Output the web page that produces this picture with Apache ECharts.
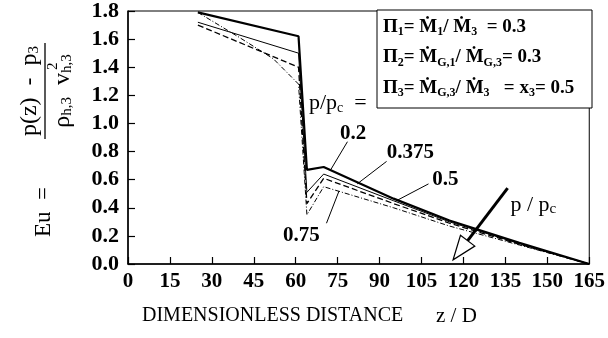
<!DOCTYPE html>
<html>
<head>
<meta charset="utf-8">
<script src="https://cdn.jsdelivr.net/npm/echarts@6/dist/echarts.min.js"></script>
<style>
html, body { margin: 0; padding: 0; background: #fff; }
#main { width: 608px; height: 338px; }
</style>
</head>
<body>
<div id="main"></div>
<script>
// z / D positions and Eu values, one pair of arrays per p/pc curve
const zP02 = [25, 61, 64, 70, 95, 115, 140, 165];
const euP02 = [1.79, 1.62, 0.67, 0.69, 0.465, 0.31, 0.15, 0.0];
const zP0375 = [25, 61, 64, 70, 95, 115, 140, 165];
const euP0375 = [1.72, 1.50, 0.51, 0.64, 0.45, 0.30, 0.145, 0.0];
const zP05 = [25, 61, 64, 70, 95, 115, 140, 165];
const euP05 = [1.70, 1.40, 0.43, 0.61, 0.43, 0.29, 0.14, 0.0];
const zP075 = [25, 40, 52, 61, 64, 70, 95, 115, 140, 165];
const euP075 = [1.79, 1.61, 1.46, 1.28, 0.35, 0.55, 0.40, 0.27, 0.135, 0.0];

const curveNames = ['0.2', '0.375', '0.5', '0.75'];

const SERIF = '"Liberation Serif", "DejaVu Serif", serif';

function pairs(xs, ys) {
    return xs.map((x, i) => [x, ys[i]]);
}

const chart = echarts.init(document.getElementById('main'));

const lineStyles = [
    {color: '#000', width: 2.2, type: 'solid'},
    {color: '#000', width: 1, type: 'solid'},
    {color: '#000', width: 1.3, type: [6, 3]},
    {color: '#000', width: 1, type: [5, 2, 1, 2]}
];
const allData = [pairs(zP02, euP02), pairs(zP0375, euP0375), pairs(zP05, euP05), pairs(zP075, euP075)];

chart.setOption({
    animation: false,
    backgroundColor: '#fff',
    grid: {
        left: 128, right: 16, top: 10, bottom: 74,
        show: true, borderColor: '#000', borderWidth: 1, backgroundColor: 'transparent'
    },
    xAxis: {
        type: 'value', min: 0, max: 165, interval: 15,
        axisLine: {lineStyle: {color: '#000', width: 1.5}},
        axisTick: {inside: true, length: 7, lineStyle: {color: '#000', width: 1.2}},
        axisLabel: {color: '#000', fontFamily: SERIF, fontWeight: 'bold', fontSize: 21, margin: 7},
        splitLine: {show: false}
    },
    yAxis: {
        type: 'value', min: 0, max: 1.8, interval: 0.2,
        axisLine: {show: true, lineStyle: {color: '#000', width: 1.5}},
        axisTick: {show: true, inside: true, length: 7, lineStyle: {color: '#000', width: 1.2}},
        axisLabel: {
            color: '#000', fontFamily: SERIF, fontWeight: 'bold', fontSize: 22, margin: 9,
            formatter: v => v.toFixed(1)
        },
        splitLine: {show: false}
    },
    series: allData.map((d, i) => ({
        name: curveNames[i],
        type: 'line',
        data: d,
        symbol: 'none',
        silent: true,
        lineStyle: lineStyles[i]
    }))
});

// annotation anchors in data units (z, Eu)
const labelAt = [[80.5, 0.93], [101, 0.79], [113.5, 0.60], [62, 0.20]];
const leaderFrom = [[78.5, 0.87], [92.5, 0.73], [107.5, 0.57], [71, 0.29]];
const leaderTo = [[72.5, 0.67], [82, 0.57], [96, 0.45], [75.5, 0.52]];
const arrowFrom = [135.8, 0.54];
const arrowTip = [116.3, 0.03];

const px = p => chart.convertToPixel({gridIndex: 0}, p);

const legendRich = {
    b: {fontFamily: SERIF, fontWeight: 'bold', fontSize: 19, lineHeight: 22, verticalAlign: 'middle', fill: '#000'},
    s: {fontFamily: SERIF, fontWeight: 'bold', fontSize: 12, lineHeight: 12, verticalAlign: 'bottom', fill: '#000'}
};

const graphics = [];

// parameter box
graphics.push({type: 'rect', shape: {x: 377, y: 10, width: 215, height: 98}, style: {fill: '#fff', stroke: '#000', lineWidth: 1}});
const boxLines = [
    '{b|\u03A0}{s|1}{b|= \u1E40}{s|1}{b|/ \u1E40}{s|3}{b|  = 0.3}',
    '{b|\u03A0}{s|2}{b|= \u1E40}{s|G,1}{b|/ \u1E40}{s|G,3}{b|= 0.3}',
    '{b|\u03A0}{s|3}{b|= \u1E40}{s|G,3}{b|/ \u1E40}{s|3}{b|   = x}{s|3}{b|= 0.5}'
];
boxLines.forEach((t, i) => {
    graphics.push({type: 'text', x: 383, y: 27 + i * 30.5, style: {text: t, verticalAlign: 'middle', rich: legendRich}});
});

// p/pc =
graphics.push({
    type: 'text', x: 309, y: 103,
    style: {
        text: '{a|p/p}{s|c}{a|  =}', verticalAlign: 'middle',
        rich: {a: {fontFamily: SERIF, fontSize: 22, lineHeight: 24, fill: '#000'},
               s: {fontFamily: SERIF, fontSize: 14, lineHeight: 13, verticalAlign: 'bottom', fill: '#000'}}
    }
});

// leaders and curve labels
curveNames.forEach((name, i) => {
    const a = px(leaderFrom[i]), b = px(leaderTo[i]), c = px(labelAt[i]);
    graphics.push({type: 'line', shape: {x1: a[0], y1: a[1], x2: b[0], y2: b[1]}, style: {stroke: '#000', lineWidth: 1}});
    graphics.push({
        type: 'text', x: c[0], y: c[1],
        style: {text: name, fill: '#000', align: 'center', verticalAlign: 'middle', font: 'bold 21px ' + SERIF}
    });
});

// arrow with hollow head
const a0 = px(arrowFrom), a1 = px(arrowTip);
const ang = Math.atan2(a1[1] - a0[1], a1[0] - a0[0]);
const headLen = 24, headHalf = 9;
const bx = a1[0] - headLen * Math.cos(ang), by = a1[1] - headLen * Math.sin(ang);
const nx = -Math.sin(ang) * headHalf, ny = Math.cos(ang) * headHalf;
graphics.push({type: 'line', shape: {x1: a0[0], y1: a0[1], x2: bx, y2: by}, style: {stroke: '#000', lineWidth: 3}});
graphics.push({
    type: 'polygon',
    shape: {points: [[a1[0], a1[1]], [bx + nx, by + ny], [bx - nx, by - ny]]},
    style: {fill: '#fff', stroke: '#000', lineWidth: 1.2}
});
const pl = px([136.8, 0.42]);
graphics.push({
    type: 'text', x: pl[0], y: pl[1],
    style: {
        text: '{a|p / p}{s|c}', verticalAlign: 'middle',
        rich: {a: {fontFamily: SERIF, fontSize: 22, lineHeight: 24, fill: '#000'},
               s: {fontFamily: SERIF, fontSize: 15, lineHeight: 14, verticalAlign: 'bottom', fill: '#000'}}
    }
});

// y-axis title: Eu = fraction, rotated
const fracRich = {
    a: {fontFamily: SERIF, fontSize: 24, lineHeight: 24, verticalAlign: 'middle', fill: '#000'},
    s: {fontFamily: SERIF, fontSize: 15, lineHeight: 13, verticalAlign: 'bottom', fill: '#000'}
};
graphics.push({
    type: 'group', x: 45, y: 91, rotation: Math.PI / 2,
    children: [
        {type: 'text', x: 0, y: -15, style: {text: '{a|p(z)  -  p}{s|3}', align: 'center', verticalAlign: 'middle', rich: fracRich}},
        {type: 'line', shape: {x1: -48, y1: 0, x2: 48, y2: 0}, style: {stroke: '#000', lineWidth: 1.3}},
        {type: 'text', x: 0, y: 18, style: {text: '{a|\u03C1}{s|h,3}{a|  v}{s|h,3}', align: 'center', verticalAlign: 'middle', rich: fracRich}},
        {type: 'text', x: 21, y: 8, style: {text: '2', align: 'left', verticalAlign: 'middle', font: '15px ' + SERIF, fill: '#000'}}
    ]
});
graphics.push({
    type: 'text', x: 44, y: 212, rotation: Math.PI / 2,
    style: {text: 'Eu  =', align: 'center', verticalAlign: 'middle', font: '23px ' + SERIF, fill: '#000'}
});

// x-axis title
graphics.push({
    type: 'text', x: 142, y: 316,
    style: {text: 'DIMENSIONLESS DISTANCE', verticalAlign: 'middle', font: '20px ' + SERIF, fill: '#000'}
});
graphics.push({
    type: 'text', x: 436, y: 316,
    style: {text: 'z / D', verticalAlign: 'middle', font: '21px ' + SERIF, fill: '#000'}
});

chart.setOption({graphic: graphics});
</script>
</body>
</html>
